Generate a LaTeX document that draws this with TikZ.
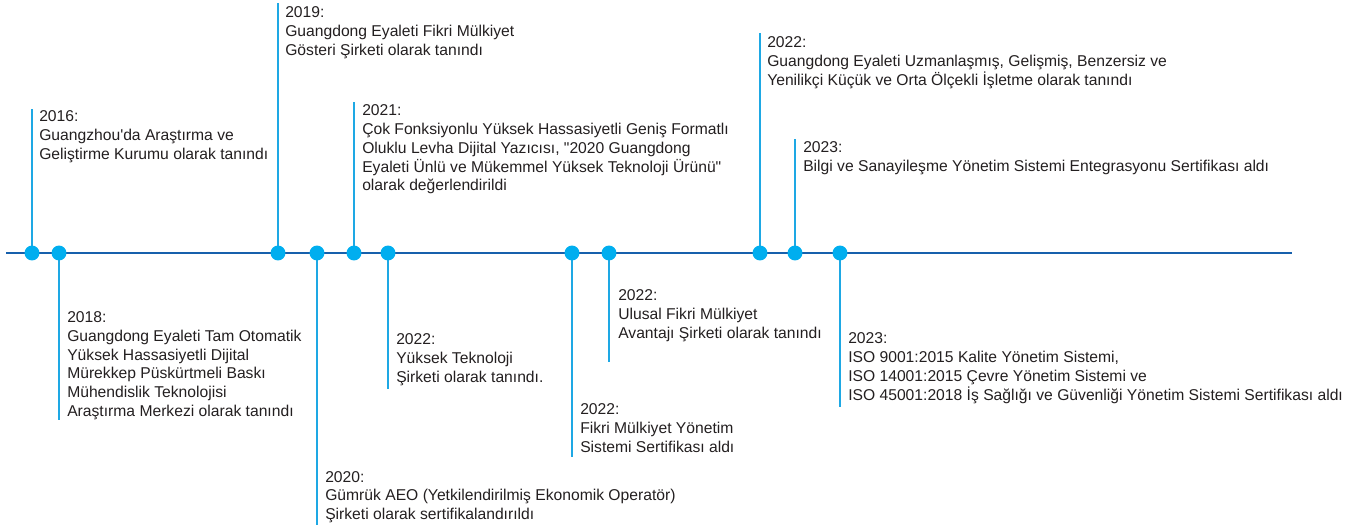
\documentclass[tikz,border=0pt]{standalone}
\usepackage{fontspec}
\setmainfont{Liberation Sans}
\definecolor{axisblue}{RGB}{22,96,172}
\definecolor{dotblue}{RGB}{0,174,239}
\definecolor{stemblue}{RGB}{30,168,228}
\definecolor{txt}{RGB}{35,31,32}
\newcommand{\lines}[1]{\begin{tabular}[t]{@{}l@{}}#1\end{tabular}}
\begin{document}
\begin{tikzpicture}[x=0.75pt,y=-0.75pt,
  dot/.style={circle,fill=dotblue,draw=none,minimum size=11.2pt,inner sep=0},
  stem/.style={draw=stemblue,line width=1.2pt},
  axis/.style={draw=axisblue,line width=2.2pt},
  lbl/.style={anchor=base west,inner sep=0,text=txt,font=\fontsize{11.75}{14}\selectfont}]
\useasboundingbox (0,0) rectangle (1368,527);
% axis
\coordinate (ax0) at (6,253);
\coordinate (ax1) at (1292,253);
\draw[axis] (ax0) -- (ax1);
% dot positions
\foreach \n/\x in {a/32,b/59,c/278,d/317,e/354,f/388,g/572,h/609,i/760,j/795,k/840}
  \coordinate (p\n) at (\x,253);
% stem ends
\coordinate (ea) at (32,109);
\coordinate (eb) at (59,420);
\coordinate (ec) at (278,3);
\coordinate (ed) at (317,525);
\coordinate (ee) at (354,102);
\coordinate (ef) at (388,389);
\coordinate (eg) at (572,457);
\coordinate (eh) at (609,362);
\coordinate (ei) at (760,33);
\coordinate (ej) at (795,139);
\coordinate (ek) at (840,407);
\foreach \n in {a,b,c,d,e,f,g,h,i,j,k}
  \draw[stem] (p\n) -- (e\n);
\foreach \n in {a,b,c,d,e,f,g,h,i,j,k}
  \node[dot] (d\n) at (p\n) {};
% labels
\node[lbl] (ta) at (39,122) {\lines{2016:\\Guangzhou\textquotesingle da Araştırma ve\\Geliştirme Kurumu olarak tanındı}};
\node[lbl] (tb) at (67,323) {\lines{2018:\\Guangdong Eyaleti Tam Otomatik\\Yüksek Hassasiyetli Dijital\\Mürekkep Püskürtmeli Baskı\\Mühendislik Teknolojisi\\Araştırma Merkezi olarak tanındı}};
\node[lbl] (tc) at (285,18) {\lines{2019:\\Guangdong Eyaleti Fikri Mülkiyet\\Gösteri Şirketi olarak tanındı}};
\node[lbl] (td) at (325,482) {\lines{2020:\\Gümrük AEO (Yetkilendirilmiş Ekonomik Operatör)\\Şirketi olarak sertifikalandırıldı}};
\node[lbl] (te) at (362,116) {\lines{2021:\\Çok Fonksiyonlu Yüksek Hassasiyetli Geniş Formatlı\\Oluklu Levha Dijital Yazıcısı, \textquotedbl 2020 Guangdong\\Eyaleti Ünlü ve Mükemmel Yüksek Teknoloji Ürünü\textquotedbl\\olarak değerlendirildi}};
\node[lbl] (tf) at (396,345) {\lines{2022:\\Yüksek Teknoloji\\Şirketi olarak tanındı.}};
\node[lbl] (tg) at (580,415) {\lines{2022:\\Fikri Mülkiyet Yönetim\\Sistemi Sertifikası aldı}};
\node[lbl] (th) at (618,301) {\lines{2022:\\Ulusal Fikri Mülkiyet\\Avantajı Şirketi olarak tanındı}};
\node[lbl] (ti) at (767,48) {\lines{2022:\\Guangdong Eyaleti Uzmanlaşmış, Gelişmiş, Benzersiz ve\\Yenilikçi Küçük ve Orta Ölçekli İşletme olarak tanındı}};
\node[lbl] (tj) at (803,153) {\lines{2023:\\Bilgi ve Sanayileşme Yönetim Sistemi Entegrasyonu Sertifikası aldı}};
\node[lbl] (tk) at (848,344) {\lines{2023:\\ISO 9001:2015 Kalite Yönetim Sistemi,\\ISO 14001:2015 Çevre Yönetim Sistemi ve\\ISO 45001:2018 İş Sağlığı ve Güvenliği Yönetim Sistemi Sertifikası aldı}};
\end{tikzpicture}
\end{document}
